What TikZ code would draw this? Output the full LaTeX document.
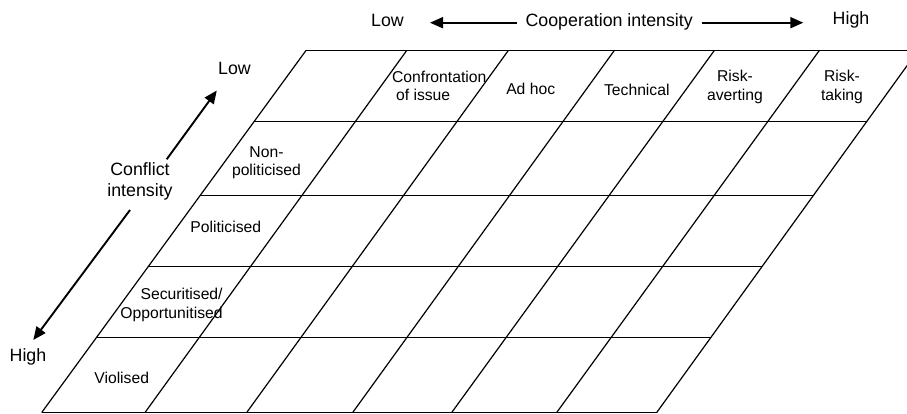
\documentclass[tikz,border=0pt]{standalone}
\usepackage{fontspec}
\setmainfont{Liberation Sans}
\usetikzlibrary{arrows.meta,calc}
\begin{document}
\begin{tikzpicture}[x=1pt,y=-1pt,
  gridline/.style={line width=1.2pt, black},
  axisarrow/.style={line width=1.9pt, -{Triangle[length=13pt,width=11pt]}},
  axislabel/.style={font=\fontsize{17.8}{20.5}\selectfont, inner sep=0pt, align=center},
  celllabel/.style={font=\fontsize{15.7}{18.5}\selectfont, inner sep=0pt, align=center},
]
\useasboundingbox (0,0) rectangle (907,414);
\begin{scope}
\clip (0,0) rectangle (907,414);
% grid corners
\coordinate (T0) at (306,50.5);   \coordinate (B0) at (41.7,412.5);
\coordinate (T1) at (406.7,50.5); \coordinate (B1) at (145,412.5);
\coordinate (T2) at (508.3,50.5); \coordinate (B2) at (246.7,412.5);
\coordinate (T3) at (614.3,50.5); \coordinate (B3) at (352.7,412.5);
\coordinate (T4) at (714.3,50.5); \coordinate (B4) at (451.7,412.5);
\coordinate (T5) at (819.3,50.5); \coordinate (B5) at (556.7,412.5);
\coordinate (T6) at (918,50.5);   \coordinate (B6) at (656.7,412.5);
% column lines
\foreach \i in {0,...,6} { \draw[gridline] (T\i) -- (B\i); }
% row lines
\draw[gridline] (T0) -- (T6);
\foreach \f in {0.19613,0.40055,0.59669,0.79282} {
  \draw[gridline] ($(T0)!\f!(B0)$) -- ($(T6)!\f!(B6)$);
}
\draw[gridline] (B0) -- (B6);
\end{scope}

% axis labels
\node[axislabel, anchor=base] (lowtop) at (387.5,26.7) {Low};
\node[axislabel, anchor=base] (coop) at (609.2,26.5) {Cooperation intensity};
\node[axislabel, anchor=base] (hightop) at (851,24.8) {High};
\node[axislabel, anchor=base] (lowleft) at (234.5,75) {Low};
\node[axislabel, anchor=base] (highleft) at (28,361) {High};
\node[axislabel] (conflict) at (140,181.5) {Conflict\\intensity};

% axis arrows
\coordinate (coopL) at (516.7,22.7);
\coordinate (coopLtip) at (430,22.7);
\coordinate (coopR) at (701.7,22.7);
\coordinate (coopRtip) at (803.3,22.7);
\coordinate (confU) at (166.7,159.3);
\coordinate (confUtip) at (216.8,90.5);
\coordinate (confD) at (130,210);
\coordinate (confDtip) at (33.3,340);
\draw[axisarrow] (coopL) -- (coopLtip);
\draw[axisarrow] (coopR) -- (coopRtip);
\draw[axisarrow] (confU) -- (confUtip);
\draw[axisarrow] (confD) -- (confDtip);

% cell labels: cooperation
\node[celllabel, align=left, anchor=west] (confr) at (391.9,85.8) {Confrontation\\\hspace*{4pt}of issue};
\node[celllabel, anchor=base] (adhoc) at (530.7,94.7) {Ad hoc};
\node[celllabel, anchor=base] (tech) at (636.8,95.5) {Technical};
\node[celllabel] (riskav) at (735,86.7) {Risk-\\averting};
\node[celllabel] (risktk) at (842,86.7) {Risk-\\taking};

% cell labels: conflict
\node[celllabel] (nonpol) at (266.5,162.5) {Non-\\politicised};
\node[celllabel, anchor=base] (pol) at (225.8,233) {Politicised};
\node[celllabel, align=right, anchor=east] (secur) at (222.8,305) {Securitised/\\Opportunitised};
\node[celllabel, anchor=base] (viol) at (121.7,383) {Violised};
\end{tikzpicture}
\end{document}
